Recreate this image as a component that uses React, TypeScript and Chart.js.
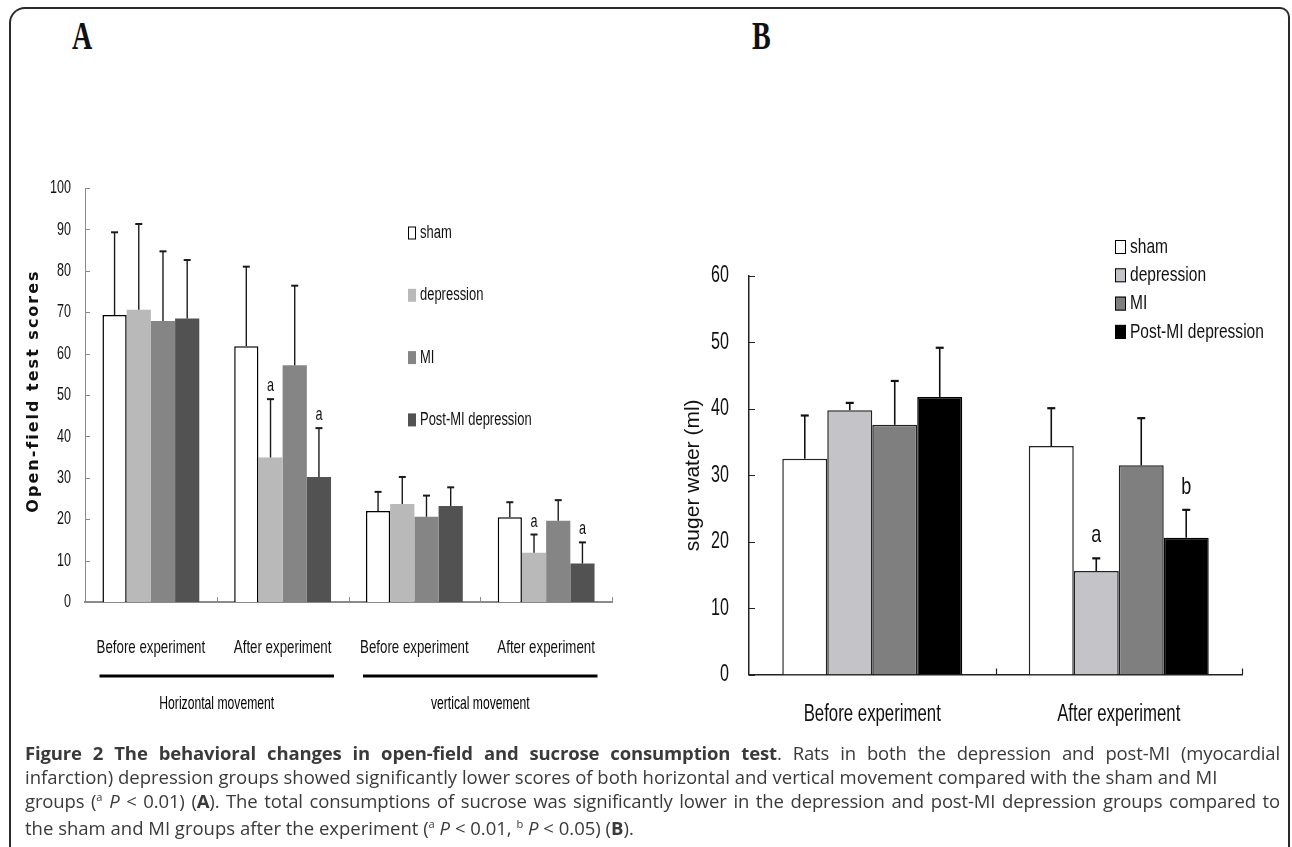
import React, { useEffect, useRef } from "react";
import { Chart, registerables } from "chart.js";

Chart.register(...registerables);

// ---------------- Panel A: open-field test ----------------
const categoriesA = ["Before experiment", "After experiment", "Before experiment", "After experiment"];
const groupLabelsA = ["Horizontal movement", "vertical movement"];
const groupSpansA = [
  [0, 1],
  [2, 3],
];
const seriesLabels = ["sham", "depression", "MI", "Post-MI depression"];

const shamA = [69.3, 61.8, 22.0, 20.5];
const depressionA = [70.6, 34.9, 23.7, 11.9];
const miA = [67.9, 57.2, 20.6, 19.6];
const postMiA = [68.5, 30.2, 23.2, 9.3];

const shamErrA = [20.0, 19.2, 4.6, 3.6];
const depressionErrA = [20.7, 14.1, 6.5, 4.4];
const miErrA = [16.8, 19.2, 5.1, 5.0];
const postMiErrA = [14.1, 11.8, 4.5, 5.1];

const depressionMarksA = ["", "a", "", "a"];
const postMiMarksA = ["", "a", "", "a"];

const yMinA = 0;
const yMaxA = 100;
const yStepA = 10;
const yTitleA = "Open-field test scores";

// ---------------- Panel B: sucrose consumption ----------------
const categoriesB = ["Before experiment", "After experiment"];
const shamB = [32.5, 34.4];
const depressionB = [39.8, 15.6];
const miB = [37.6, 31.5];
const postMiB = [41.8, 20.6];

const shamErrB = [6.5, 5.7];
const depressionErrB = [1.1, 1.9];
const miErrB = [6.6, 7.1];
const postMiErrB = [7.4, 4.2];

const depressionMarksB = ["", "a"];
const postMiMarksB = ["", "b"];

const yMinB = 0;
const yMaxB = 60;
const yStepB = 10;
const yTitleB = "suger water (ml)";

// ---------------- fonts ----------------
const SANS = "'Liberation Sans', Arial, sans-serif";

// draw text compressed horizontally (the original uses a very condensed face)
function drawNarrow(ctx: CanvasRenderingContext2D, text: string, x: number, y: number, font: string, sx: number, align: CanvasTextAlign, baseline: CanvasTextBaseline, color: string) {
  ctx.save();
  ctx.font = font;
  ctx.fillStyle = color;
  ctx.textAlign = align;
  ctx.textBaseline = baseline;
  ctx.translate(x, y);
  ctx.scale(sx, 1);
  ctx.fillText(text, 0, 0);
  ctx.restore();
}

// ---------------- plugins ----------------
const errorBarsPlugin = {
  id: "errorBars",
  afterDatasetsDraw(chart: any, _a: any, o: any) {
    const ctx = chart.ctx;
    const y = chart.scales.y;
    chart.data.datasets.forEach((ds: any, i: number) => {
      const meta = chart.getDatasetMeta(i);
      meta.data.forEach((bar: any, j: number) => {
        const err = ds.errors ? ds.errors[j] : 0;
        const top = y.getPixelForValue(ds.data[j] + err);
        ctx.save();
        ctx.strokeStyle = o.color;
        ctx.lineWidth = o.width;
        ctx.beginPath();
        ctx.moveTo(bar.x, bar.y);
        ctx.lineTo(bar.x, top);
        ctx.stroke();
        ctx.lineWidth = o.capWidth;
        ctx.beginPath();
        ctx.moveTo(bar.x - o.cap / 2, top);
        ctx.lineTo(bar.x + o.cap / 2, top);
        ctx.stroke();
        ctx.restore();
        const mark = ds.marks ? ds.marks[j] : "";
        if (mark) drawNarrow(ctx, mark, bar.x, top - o.markGap, o.markFont, o.markSx, "center", "alphabetic", o.markColor);
      });
    });
  },
};

const boxLegendPlugin = {
  id: "boxLegend",
  afterDraw(chart: any, _a: any, o: any) {
    const ctx = chart.ctx;
    chart.data.datasets.forEach((ds: any, i: number) => {
      const cy = o.top + i * o.rowGap;
      ctx.save();
      ctx.fillStyle = ds.backgroundColor;
      ctx.fillRect(o.left, cy - o.boxH / 2, o.boxW, o.boxH);
      if (o.boxBorder || ds.borderWidth) {
        ctx.strokeStyle = "#000";
        ctx.lineWidth = 1;
        ctx.strokeRect(o.left + 0.5, cy - o.boxH / 2 + 0.5, o.boxW - 1, o.boxH - 1);
      }
      ctx.restore();
      drawNarrow(ctx, ds.label, o.left + o.boxW + o.gap, cy, o.font, o.sx, "left", "middle", o.color);
    });
  },
};

// tick labels: values and positions come from the chart's own scales
const narrowTicksPlugin = {
  id: "narrowTicks",
  afterDraw(chart: any, _a: any, o: any) {
    const ctx = chart.ctx;
    const ca = chart.chartArea;
    const x = chart.scales.x;
    const y = chart.scales.y;
    y.ticks.forEach((t: any, i: number) => {
      drawNarrow(ctx, String(t.label), ca.left - o.yPad, y.getPixelForTick(i), o.yFont, o.ySx, "right", "middle", o.color);
    });
    x.ticks.forEach((t: any, i: number) => {
      drawNarrow(ctx, String(t.label), x.getPixelForTick(i), ca.bottom + o.xPad, o.xFont, o.xSx, "center", "middle", o.color);
    });
  },
};

const innerTicksPlugin = {
  id: "innerTicks",
  afterDraw(chart: any, _a: any, o: any) {
    const ctx = chart.ctx;
    const ca = chart.chartArea;
    const x = chart.scales.x;
    const y = chart.scales.y;
    ctx.save();
    ctx.strokeStyle = o.color;
    ctx.lineWidth = o.width;
    ctx.beginPath();
    y.ticks.forEach((_t: any, i: number) => {
      const py = Math.round(y.getPixelForTick(i)) + 0.5;
      ctx.moveTo(ca.left, py);
      ctx.lineTo(ca.left + o.len, py);
    });
    for (let i = 1; i <= x.ticks.length; i++) {
      const px = Math.round(x.getPixelForValue(i - 0.5)) + 0.5;
      ctx.moveTo(px, ca.bottom);
      ctx.lineTo(px, ca.bottom - o.len);
    }
    ctx.stroke();
    ctx.restore();
  },
};

const groupAxisPlugin = {
  id: "groupAxis",
  afterDraw(chart: any, _a: any, o: any) {
    const ctx = chart.ctx;
    const ca = chart.chartArea;
    const x = chart.scales.x;
    const w = x.getPixelForValue(1) - x.getPixelForValue(0);
    o.spans.forEach((span: number[], k: number) => {
      const x1 = x.getPixelForValue(span[0]) - o.extend * w;
      const x2 = x.getPixelForValue(span[1]) + o.extend * w;
      ctx.save();
      ctx.strokeStyle = "#000";
      ctx.lineWidth = o.lineWidth;
      ctx.beginPath();
      ctx.moveTo(x1, ca.bottom + o.lineOffset);
      ctx.lineTo(x2, ca.bottom + o.lineOffset);
      ctx.stroke();
      ctx.restore();
      drawNarrow(ctx, o.labels[k], (x1 + x2) / 2, ca.bottom + o.labelOffset, o.font, o.sx, "center", "middle", "#000");
    });
  },
};

const spacedTitlePlugin = {
  id: "spacedTitle",
  afterDraw(chart: any, _a: any, o: any) {
    const ctx = chart.ctx;
    const ca = chart.chartArea;
    ctx.save();
    ctx.font = o.font;
    ctx.fillStyle = o.color;
    (ctx as any).letterSpacing = o.spacing;
    ctx.translate(o.x, (ca.top + ca.bottom) / 2 + o.dy);
    ctx.rotate(-Math.PI / 2);
    ctx.textAlign = "center";
    ctx.textBaseline = "middle";
    ctx.fillText(o.text, 0, 0);
    ctx.restore();
  },
};

function ChartA() {
  const ref = useRef<HTMLCanvasElement>(null);
  useEffect(() => {
    if (!ref.current) return;
    const chart = new Chart(ref.current, {
      type: "bar",
      data: {
        labels: categoriesA,
        datasets: [
          { label: seriesLabels[0], data: shamA, errors: shamErrA, backgroundColor: "#ffffff", borderColor: "#000000", borderWidth: 1.5 } as any,
          { label: seriesLabels[1], data: depressionA, errors: depressionErrA, marks: depressionMarksA, backgroundColor: "#b9b9b9", borderWidth: 0 } as any,
          { label: seriesLabels[2], data: miA, errors: miErrA, backgroundColor: "#858585", borderWidth: 0 } as any,
          { label: seriesLabels[3], data: postMiA, errors: postMiErrA, marks: postMiMarksA, backgroundColor: "#525252", borderWidth: 0 } as any,
        ],
      },
      options: {
        responsive: false,
        animation: false,
        layout: { padding: { top: 28, right: 28, left: 0, bottom: 0 } },
        datasets: { bar: { categoryPercentage: 0.735, barPercentage: 1 } },
        plugins: {
          legend: { display: false },
          tooltip: { enabled: false },
          errorBars: { color: "#1a1a1a", width: 1.4, capWidth: 2, cap: 7, markColor: "#111", markFont: `18px ${SANS}`, markSx: 0.7, markGap: 8 },
          boxLegend: { left: 408, top: 73, rowGap: 62.3, boxW: 8, boxH: 13, gap: 4, font: `18px ${SANS}`, sx: 0.72, color: "#111", boxBorder: false },
          narrowTicks: { color: "#111", yFont: `19px ${SANS}`, ySx: 0.66, yPad: 14, xFont: `19px ${SANS}`, xSx: 0.7, xPad: 46 },
          innerTicks: { color: "#8a8a8a", width: 1, len: 5 },
          groupAxis: { spans: groupSpansA, labels: groupLabelsA, extend: 0.39, lineWidth: 3, lineOffset: 74, labelOffset: 102, font: `19px ${SANS}`, sx: 0.64 },
          spacedTitle: { text: yTitleA, x: 34, dy: -4, font: "bold 16px 'DejaVu Sans', Verdana, sans-serif", color: "#111", spacing: "2px" },
        } as any,
        scales: {
          x: {
            grid: { display: false, drawTicks: false },
            border: { display: true, color: "#8a8a8a", width: 2 },
            ticks: { display: false, maxRotation: 0, minRotation: 0, autoSkip: false },
            afterFit: (s: any) => {
              s.height = 128;
            },
          },
          y: {
            min: yMinA,
            max: yMaxA,
            ticks: { display: false, stepSize: yStepA },
            grid: { display: false, drawTicks: false },
            border: { display: true, color: "#8a8a8a", width: 1 },
            afterFit: (s: any) => {
              s.width = 85;
            },
          },
        },
      },
      plugins: [errorBarsPlugin, boxLegendPlugin, narrowTicksPlugin, innerTicksPlugin, groupAxisPlugin, spacedTitlePlugin],
    } as any);
    return () => chart.destroy();
  }, []);
  return <canvas ref={ref} width={640} height={570} style={{ position: "absolute", left: 0, top: 160 }} />;
}

function ChartB() {
  const ref = useRef<HTMLCanvasElement>(null);
  useEffect(() => {
    if (!ref.current) return;
    const chart = new Chart(ref.current, {
      type: "bar",
      data: {
        labels: categoriesB,
        datasets: [
          { label: seriesLabels[0], data: shamB, errors: shamErrB, backgroundColor: "#ffffff", borderColor: "#222", borderWidth: 1.5 } as any,
          { label: seriesLabels[1], data: depressionB, errors: depressionErrB, marks: depressionMarksB, backgroundColor: "#c4c3c8", borderColor: "#222", borderWidth: 1.5 } as any,
          { label: seriesLabels[2], data: miB, errors: miErrB, backgroundColor: "#7f7f7f", borderColor: "#222", borderWidth: 1.5 } as any,
          { label: seriesLabels[3], data: postMiB, errors: postMiErrB, marks: postMiMarksB, backgroundColor: "#000000", borderColor: "#000", borderWidth: 1.5 } as any,
        ],
      },
      options: {
        responsive: false,
        animation: false,
        layout: { padding: { top: 76, right: 50, left: 0, bottom: 0 } },
        datasets: { bar: { categoryPercentage: 0.73, barPercentage: 1 } },
        plugins: {
          legend: { display: false },
          tooltip: { enabled: false },
          errorBars: { color: "#111", width: 1.6, capWidth: 2.2, cap: 8, markColor: "#111", markFont: `24px ${SANS}`, markSx: 0.75, markGap: 16 },
          boxLegend: { left: 475, top: 47, rowGap: 28.3, boxW: 11, boxH: 14, gap: 4, font: `21px ${SANS}`, sx: 0.74, color: "#111", boxBorder: true },
          narrowTicks: { color: "#111", yFont: `23px ${SANS}`, ySx: 0.7, yPad: 20, xFont: `23px ${SANS}`, xSx: 0.73, xPad: 40 },
          innerTicks: { color: "#222", width: 1.2, len: 6 },
        } as any,
        scales: {
          x: {
            grid: { display: false, drawTicks: false },
            border: { display: true, color: "#222", width: 1.5 },
            ticks: { display: false, maxRotation: 0, minRotation: 0, autoSkip: false },
            afterFit: (s: any) => {
              s.height = 85.4;
            },
          },
          y: {
            min: yMinB,
            max: yMaxB,
            ticks: { display: false, stepSize: yStepB },
            grid: { display: false, drawTicks: false },
            border: { display: true, color: "#222", width: 1.5 },
            title: {
              display: true,
              text: yTitleB,
              font: { family: SANS, size: 21 },
              color: "#111",
              padding: { top: 41, bottom: 0 },
            },
            afterFit: (s: any) => {
              s.width = 109;
            },
          },
        },
      },
      plugins: [errorBarsPlugin, boxLegendPlugin, narrowTicksPlugin, innerTicksPlugin],
    } as any);
    return () => chart.destroy();
  }, []);
  return <canvas ref={ref} width={652} height={560} style={{ position: "absolute", left: 640, top: 200 }} />;
}

const panelLetter: React.CSSProperties = {
  position: "absolute",
  top: 16,
  fontFamily: "'Liberation Serif', 'DejaVu Serif', serif",
  fontWeight: "bold",
  fontSize: 39,
  lineHeight: 1,
  transform: "scaleX(0.72)",
  transformOrigin: "left top",
  color: "#111",
};

const supStyle: React.CSSProperties = { fontSize: "0.6em", verticalAlign: "baseline", position: "relative", top: "-0.6em" };

export default function App() {
  return (
    <div style={{ position: "absolute", left: 0, top: 0, width: 1292, height: 847, overflow: "hidden", background: "#fff" }}>
      <div
        style={{
          position: "absolute",
          left: 9,
          top: 7,
          width: 1281,
          height: 900,
          boxSizing: "border-box",
          border: "2px solid #2a2a2a",
          borderBottom: "none",
          borderRadius: "16px 10px 0 0",
        }}
      />
      <div style={{ ...panelLetter, left: 72 }}>A</div>
      <div style={{ ...panelLetter, left: 752 }}>B</div>
      <ChartA />
      <ChartB />
      <div
        style={{
          position: "absolute",
          left: 25,
          top: 741,
          width: 1255,
          fontFamily: "'Open Sans', sans-serif",
          fontSize: 18.5,
          lineHeight: "24px",
          color: "#3a3a3a",
        }}
      >
        <div style={{ textAlign: "justify", textAlignLast: "justify", letterSpacing: "-0.15px" }}>
          <b>Figure 2 The behavioral changes in open-field and sucrose consumption test</b>. Rats in both the depression and post-MI (myocardial
        </div>
        <div style={{ whiteSpace: "nowrap" }}>
          infarction) depression groups showed significantly lower scores of both horizontal and vertical movement compared with the sham and MI
        </div>
        <div style={{ textAlign: "justify", textAlignLast: "justify", letterSpacing: "-0.15px" }}>
          groups (<sup style={supStyle}>a</sup> <i>P</i> &lt; 0.01) (<b>A</b>). The total consumptions of sucrose was significantly lower in the depression and post-MI depression groups compared to
        </div>
        <div style={{ whiteSpace: "nowrap" }}>
          the sham and MI groups after the experiment (<sup style={supStyle}>a</sup> <i>P</i> &lt; 0.01, <sup style={supStyle}>b</sup> <i>P</i> &lt; 0.05) (<b>B</b>).
        </div>
      </div>
    </div>
  );
}
